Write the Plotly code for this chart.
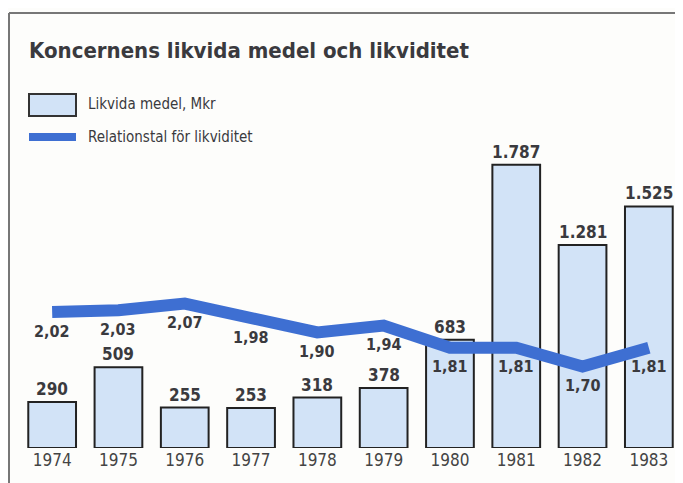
import plotly.graph_objects as go

years = ["1974", "1975", "1976", "1977", "1978", "1979", "1980", "1981", "1982", "1983"]
likvida = [290, 509, 255, 253, 318, 378, 683, 1787, 1281, 1525]
likvida_labels = ["290", "509", "255", "253", "318", "378", "683", "1.787", "1.281", "1.525"]
relation = [2.02, 2.03, 2.07, 1.98, 1.90, 1.94, 1.81, 1.81, 1.70, 1.81]
relation_labels = ["2,02", "2,03", "2,07", "1,98", "1,90", "1,94", "1,81", "1,81", "1,70", "1,81"]

title = "Koncernens likvida medel och likviditet"
legend_bar = "Likvida medel, Mkr"
legend_line = "Relationstal för likviditet"

FONT = "DejaVu Sans Condensed, Liberation Sans Narrow, Roboto, sans-serif"
BAR_FILL = "#d2e3f7"
LINE_COL = "#3e6fd2"
TXT = "#3a3a3e"

OFF = 8  # page body margin
W, H = 683 - OFF, 483 - OFF
L, R, T, B = 19 - OFF, 1, 140 - OFF, 35
pw, ph = W - L - R, H - T - B

def px2paper_x(px):
    return (px - OFF - L) / pw

def px2paper_y(py):
    return (H - B - (py - OFF)) / ph

fig = go.Figure()
fig.add_trace(go.Bar(
    x=years, y=likvida, width=0.72,
    marker=dict(color=BAR_FILL, line=dict(color="#222222", width=2)),
    showlegend=False, hoverinfo="x+y",
))
fig.add_trace(go.Scatter(
    x=years, y=relation, yaxis="y2", mode="lines",
    line=dict(color=LINE_COL, width=12),
    showlegend=False,
))

ann = []
for i, (v, t) in enumerate(zip(likvida, likvida_labels)):
    ann.append(dict(x=i, y=v, xref="x", yref="y", text=f"<b>{t}</b>", showarrow=False,
                    yanchor="bottom", yshift=1, font=dict(family=FONT, size=17, color=TXT)))
for i, (v, t) in enumerate(zip(relation, relation_labels)):
    ann.append(dict(x=i, y=v, xref="x", yref="y2", text=f"<b>{t}</b>", showarrow=False,
                    yanchor="middle", yshift=-19, font=dict(family=FONT, size=16, color=TXT)))

ann.append(dict(x=px2paper_x(27), y=px2paper_y(50), xref="paper", yref="paper",
                text=f"<b>{title}</b>", showarrow=False, xanchor="left", yanchor="middle",
                font=dict(family=FONT, size=22, color=TXT)))
ann.append(dict(x=px2paper_x(86), y=px2paper_y(104), xref="paper", yref="paper",
                text=legend_bar, showarrow=False, xanchor="left", yanchor="middle",
                font=dict(family=FONT, size=15, color=TXT)))
ann.append(dict(x=px2paper_x(86), y=px2paper_y(137), xref="paper", yref="paper",
                text=legend_line, showarrow=False, xanchor="left", yanchor="middle",
                font=dict(family=FONT, size=15, color=TXT)))

shapes = [
    dict(type="rect", xref="paper", yref="paper",
         x0=px2paper_x(29), x1=px2paper_x(76), y0=px2paper_y(116), y1=px2paper_y(94),
         fillcolor=BAR_FILL, line=dict(color="#333333", width=2)),
    dict(type="rect", xref="paper", yref="paper",
         x0=px2paper_x(29), x1=px2paper_x(76), y0=px2paper_y(141), y1=px2paper_y(133),
         fillcolor=LINE_COL, line=dict(width=0)),
    dict(type="line", xref="paper", yref="paper",
         x0=px2paper_x(9), x1=px2paper_x(683), y0=px2paper_y(13), y1=px2paper_y(13),
         line=dict(color="#777777", width=2)),
    dict(type="line", xref="paper", yref="paper",
         x0=px2paper_x(9), x1=px2paper_x(9), y0=px2paper_y(13), y1=px2paper_y(483),
         line=dict(color="#777777", width=2)),
]

fig.update_layout(
    width=W, height=H,
    margin=dict(l=L, r=R, t=T, b=B),
    paper_bgcolor="#fdfdfb", plot_bgcolor="rgba(0,0,0,0)",
    bargap=0.28,
    xaxis=dict(type="category", range=[-0.5, 9.5], showgrid=False, zeroline=False,
               showline=False, ticks="", tickfont=dict(family=FONT, size=17, color="#444444")),
    yaxis=dict(range=[0, 1944], visible=False, showgrid=False),
    yaxis2=dict(range=[1.22, 3.032], overlaying="y", visible=False, showgrid=False),
    annotations=ann, shapes=shapes,
)

fig.write_html("out.html")
